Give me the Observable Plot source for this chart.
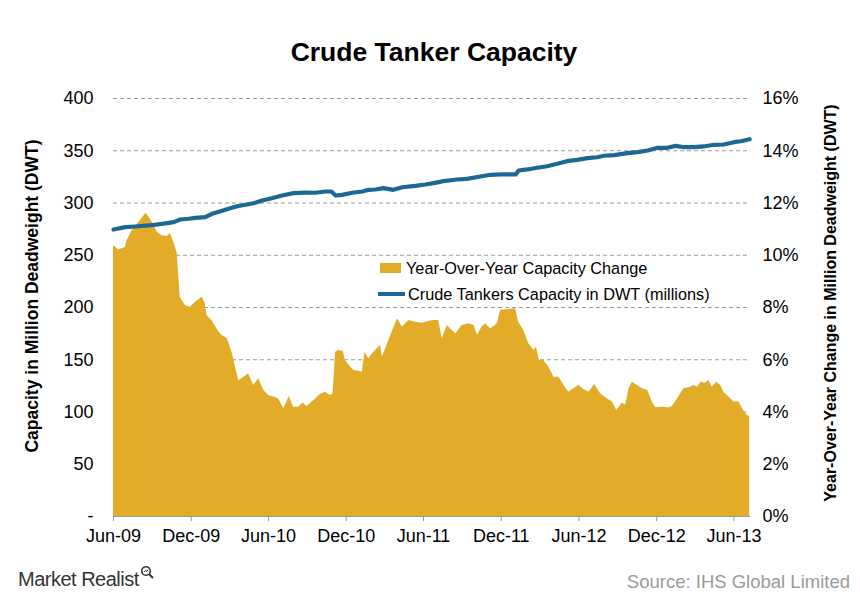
<!DOCTYPE html>
<html>
<head>
<meta charset="utf-8">
<script src="https://cdn.jsdelivr.net/npm/d3@7"></script>
<script src="https://cdn.jsdelivr.net/npm/@observablehq/plot@0.6"></script>
<style>
  html, body { margin: 0; padding: 0; background: #fff; }
  #wrap { position: relative; width: 860px; height: 600px; font-family: "Liberation Sans", Arial, sans-serif; color: #000; }
  #chart { position: absolute; left: 0; top: 0; }
  .abs { position: absolute; white-space: nowrap; }
  .rot { transform: translate(-50%, -50%) rotate(-90deg); font-weight: bold; }
</style>
</head>
<body>
<div id="wrap">
  <div id="chart"></div>
  <div class="abs" style="left:0;width:868px;top:38px;text-align:center;font-size:26.5px;font-weight:bold;line-height:28px;">Crude Tanker Capacity</div>
  <div class="abs rot" style="left:32px;top:296px;font-size:17.5px;">Capacity in Million Deadweight (DWT)</div>
  <div class="abs rot" style="left:831px;top:303px;font-size:16px;">Year-Over-Year Change in Million Deadweight (DWT)</div>
  <div class="abs" style="left:380px;top:263px;width:21px;height:10px;background:#E2AC28;"></div>
  <div class="abs" style="left:406px;top:259px;font-size:16.3px;line-height:18px;">Year-Over-Year Capacity Change</div>
  <div class="abs" style="left:378px;top:292px;width:27px;height:4px;background:#1D6794;"></div>
  <div class="abs" style="left:408px;top:285px;font-size:16.3px;line-height:18px;">Crude Tankers Capacity in DWT (millions)</div>
  <div class="abs" style="left:18px;top:568px;font-size:20px;line-height:22px;color:#333;font-family:'Liberation Sans Narrow','Liberation Sans',sans-serif;letter-spacing:-0.5px;">Market Realist<svg width="14" height="14" style="vertical-align:top;margin-left:1px;margin-top:-3px" viewBox="0 0 14 14"><circle cx="6" cy="6" r="4.3" fill="none" stroke="#333" stroke-width="1.6"/><path d="M9 9 L13 13" stroke="#333" stroke-width="2"/><path d="M4 7 L5.5 5.5 L7 6.5 L8 4.5" fill="none" stroke="#333" stroke-width="1"/></svg></div>
  <div class="abs" style="right:10px;top:571px;font-size:18.5px;line-height:22px;color:#9a9a9a;">Source: IHS Global Limited</div>
</div>
<script>
// Year-over-year capacity change (%)
const areaDates = [
  "2009-06-01","2009-06-13","2009-06-29","2009-07-03","2009-07-15","2009-07-31","2009-08-17","2009-08-31",
  "2009-09-12","2009-09-23","2009-10-05","2009-10-13","2009-10-21","2009-10-29","2009-11-05","2009-11-17",
  "2009-11-29","2009-12-11","2009-12-27","2010-01-03","2010-01-07","2010-01-19","2010-02-04","2010-02-12",
  "2010-02-24","2010-03-08","2010-03-23","2010-04-04","2010-04-15","2010-04-27","2010-05-09","2010-05-21",
  "2010-06-01","2010-06-13","2010-06-25","2010-07-07","2010-07-20","2010-07-30","2010-08-11","2010-08-21",
  "2010-08-31","2010-09-16","2010-10-01","2010-10-13","2010-10-25","2010-10-31","2010-11-06","2010-11-13",
  "2010-11-24","2010-11-29","2010-12-11","2010-12-19","2010-12-31","2011-01-08","2011-01-14","2011-01-23",
  "2011-02-01","2011-02-12","2011-02-20","2011-02-24","2011-03-04","2011-03-16","2011-04-01","2011-04-12",
  "2011-04-28","2011-05-13","2011-05-29","2011-06-13","2011-06-25","2011-07-07","2011-07-15","2011-07-27",
  "2011-08-04","2011-08-16","2011-08-31","2011-09-16","2011-09-28","2011-10-06","2011-10-17","2011-10-25",
  "2011-11-06","2011-11-22","2011-11-30","2011-12-19","2012-01-04","2012-01-11","2012-01-23","2012-02-04",
  "2012-02-16","2012-02-22","2012-02-29","2012-03-10","2012-03-22","2012-04-03","2012-04-15","2012-04-27",
  "2012-05-08","2012-05-20","2012-06-01","2012-06-13","2012-06-25","2012-07-08","2012-07-22","2012-08-07",
  "2012-08-19","2012-08-29","2012-09-11","2012-09-19","2012-09-27","2012-10-05","2012-10-17","2012-10-29",
  "2012-11-10","2012-11-21","2012-11-29","2012-12-14","2012-12-30","2013-01-07","2013-01-22","2013-02-03",
  "2013-02-15","2013-02-27","2013-03-08","2013-03-15","2013-03-26","2013-04-03","2013-04-11","2013-04-21",
  "2013-05-01","2013-05-08","2013-05-20","2013-06-01","2013-06-13","2013-06-21","2013-06-26","2013-07-03",
  "2013-07-08"
];
const areaPct = [
  10.37,10.2,10.3,10.56,10.95,11.26,11.62,11.26,
  10.88,10.75,10.72,10.82,10.5,10.07,8.39,8.08,
  8.01,8.2,8.39,8.15,7.69,7.5,7.06,6.93,
  6.8,6.23,5.2,5.33,5.46,5.01,5.27,4.82,
  4.63,4.57,4.5,4.12,4.59,4.18,4.18,4.34,
  4.21,4.44,4.67,4.76,4.63,4.7,6.29,6.35,
  6.33,5.97,5.72,5.59,5.56,5.52,6.29,6.04,
  6.23,6.42,6.55,6.1,6.42,6.93,7.57,7.25,
  7.5,7.44,7.4,7.46,7.5,7.5,6.8,7.31,
  7.18,6.99,7.31,7.38,7.31,6.93,7.25,7.38,
  7.18,7.38,7.89,7.92,7.95,7.44,7.12,6.61,
  6.35,6.48,5.97,5.97,5.72,5.33,5.33,5.01,
  4.76,4.89,5.01,4.85,4.76,5.05,4.7,4.5,
  4.38,4.06,4.34,4.25,4.89,5.14,5.01,4.89,
  4.82,4.38,4.16,4.18,4.16,4.21,4.57,4.89,
  4.93,5.01,4.95,5.14,5.1,5.21,4.95,5.14,
  5.01,4.76,4.57,4.38,4.38,4.12,3.99,3.87,
  3.83
];
// Crude tanker capacity (million DWT)
const lineDates = [
  "2009-06-01","2009-06-29","2009-07-22","2009-08-23","2009-09-23","2009-10-21","2009-11-05","2009-11-25",
  "2009-12-11","2010-01-03","2010-01-19","2010-02-08","2010-02-27","2010-03-19","2010-04-08","2010-04-27",
  "2010-05-17","2010-06-09","2010-07-03","2010-07-30","2010-08-27","2010-09-19","2010-10-13","2010-10-27",
  "2010-11-06","2010-11-21","2010-12-15","2011-01-08","2011-01-23","2011-02-08","2011-02-27","2011-03-22",
  "2011-04-12","2011-05-13","2011-06-05","2011-06-28","2011-07-18","2011-08-19","2011-09-11","2011-10-13",
  "2011-11-06","2011-11-30","2012-01-04","2012-01-11","2012-01-31","2012-02-24","2012-03-18","2012-04-11",
  "2012-05-04","2012-05-28","2012-06-21","2012-07-14","2012-07-30","2012-08-23","2012-09-23","2012-10-17",
  "2012-11-10","2012-12-03","2012-12-26","2013-01-15","2013-02-03","2013-02-27","2013-03-22","2013-04-15",
  "2013-05-08","2013-06-01","2013-06-17","2013-07-03","2013-07-08"
];
const lineDwt = [
  274.6,276.9,277.5,278.5,280.1,281.7,284.2,284.9,
  285.8,286.4,289.7,292.2,294.4,296.9,298.3,299.8,
  302.4,304.6,307.2,309.4,310,309.8,311,311,
  307.2,307.8,309.8,311,312.6,312.9,314.2,312.6,
  315.1,316.4,317.7,319.3,320.9,322.5,323.1,325.4,
  327,327.3,327.3,331.1,332.1,333.7,335.2,337.5,
  340,341.3,342.9,343.8,345.2,345.8,347.7,348.7,
  350.2,352.8,352.8,354.7,353.4,353.4,354.1,355.7,
  356,358.2,359.1,360.5,361
];
// Axis ticks
const xTickDates = ["2009-06-01","2009-12-01","2010-06-01","2010-12-01","2011-06-01","2011-12-01","2012-06-01","2012-12-01","2013-06-01"];
const yTicks = [0,50,100,150,200,250,300,350,400];
const pctTicks = [0,2,4,6,8,10,12,14,16];

const parse = d3.utcParse("%Y-%m-%d");
const areaData = areaDates.map((d, i) => ({date: parse(d), pct: areaPct[i]}));
const lineData = lineDates.map((d, i) => ({date: parse(d), dwt: lineDwt[i]}));
const xTicks = xTickDates.map(parse);
const fmt = d3.utcFormat("%b-%y");
const PCT_TO_LEFT = 400 / 16;

const chart = Plot.plot({
  width: 860,
  height: 600,
  marginLeft: 113,
  marginRight: 110,
  marginTop: 98,
  marginBottom: 84,
  style: {fontFamily: "'Liberation Sans', Arial, sans-serif", fontSize: "18px", color: "#000", background: "transparent"},
  x: {type: "utc", domain: [parse("2009-06-01"), parse("2013-07-10")]},
  y: {domain: [0, 400]},
  marks: [
    Plot.gridY(yTicks.filter(d => d > 0), {stroke: "#9a9a9a", strokeOpacity: 1, strokeWidth: 1, strokeDasharray: "4,3"}),
    Plot.areaY(areaData, {x: "date", y: d => d.pct * PCT_TO_LEFT, fill: "#E2AC28", curve: "linear"}),
    Plot.ruleY([0], {stroke: "#9a9a9a", strokeWidth: 1}),
    Plot.lineY(lineData, {x: "date", y: "dwt", stroke: "#1D6794", strokeWidth: 4.2, curve: "linear"}),
    Plot.axisY(yTicks, {anchor: "left", tickSize: 0, tickPadding: 20, tickFormat: d => d === 0 ? "-" : String(d), label: null, fontSize: 18}),
    Plot.axisY(pctTicks.map(p => p * PCT_TO_LEFT), {anchor: "right", tickSize: 0, tickPadding: 12, tickFormat: d => (d / PCT_TO_LEFT) + "%", label: null, fontSize: 18}),
    Plot.axisX(xTicks, {tickSize: 5, tickPadding: 8, tickFormat: fmt, label: null, fontSize: 18, stroke: "#9a9a9a"})
  ]
});
document.getElementById("chart").appendChild(chart);
</script>
</body>
</html>
